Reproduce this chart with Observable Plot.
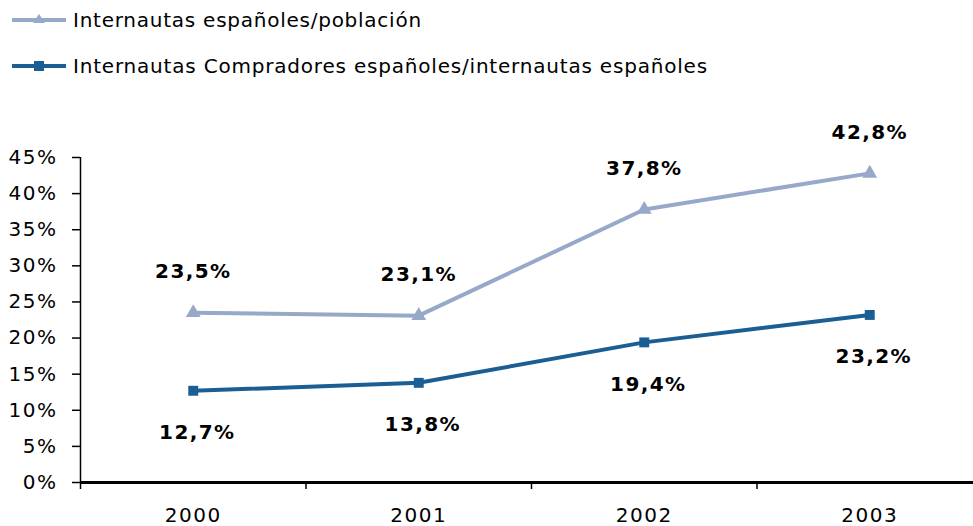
<!DOCTYPE html>
<html>
<head>
<meta charset="utf-8">
<script src="https://cdn.jsdelivr.net/npm/d3@7"></script>
<script src="https://cdn.jsdelivr.net/npm/@observablehq/plot@0.6"></script>
<style>
  html, body { margin: 0; padding: 0; background: #fff; }
  #wrap { position: relative; width: 973px; height: 526px; overflow: hidden; }
  #legend { position: absolute; left: 0; top: 0; font-family: "DejaVu Sans", sans-serif; font-size: 20px; color: #000; }
  .item { position: absolute; left: 12px; display: flex; align-items: center; white-space: nowrap; }
  .item svg { display: block; margin-right: 7px; }
  #chart g[aria-label="y-axis tick label"] text { letter-spacing: 1.5px; }
  #chart g[aria-label="x-axis tick label"] text { letter-spacing: 1.5px; }
  #chart g[aria-label="text"] text { letter-spacing: 1.4px; }
</style>
</head>
<body>
<div id="wrap">
  <div id="legend"></div>
  <div id="chart"></div>
</div>
<script>
const years = [2000, 2001, 2002, 2003];
const seriesNames = ["Internautas españoles/población", "Internautas Compradores españoles/internautas españoles"];
const internautasPoblacion = [23.5, 23.1, 37.8, 42.8];
const compradoresInternautas = [12.7, 13.8, 19.4, 23.2];
const yTicks = [0, 5, 10, 15, 20, 25, 30, 35, 40, 45];
const colors = ["#97A9C9", "#1A5E93"];
const symbols = ["triangle", "square"];

const rows = [
  ...years.map((y, i) => ({year: y, value: internautasPoblacion[i], s: 0})),
  ...years.map((y, i) => ({year: y, value: compradoresInternautas[i], s: 1}))
];
const s0 = rows.filter(d => d.s === 0);
const s1 = rows.filter(d => d.s === 1);
const boundaries = years.map(y => y - 0.5);
const fmt = v => v.toFixed(1).replace(".", ",") + "%";

// Legend
const legend = document.getElementById("legend");
const legendTops = [6, 52];
const legendSpacing = ["0.75px", "0.8px"];
seriesNames.forEach((name, i) => {
  const item = document.createElement("div");
  item.className = "item";
  item.style.top = legendTops[i] + "px";
  const sym = symbols[i] === "triangle"
    ? `<path d="M27,8 L33,17 L21,17 Z" fill="${colors[i]}"/>`
    : `<rect x="22" y="9" width="10" height="10" fill="${colors[i]}"/>`;
  item.innerHTML = `<svg width="54" height="28" viewBox="0 0 54 28"><line x1="0" x2="54" y1="14" y2="14" stroke="${colors[i]}" stroke-width="4"/>${sym}</svg><span style="letter-spacing:${legendSpacing[i]}">${name}</span>`;
  legend.appendChild(item);
});

const chart = Plot.plot({
  width: 973,
  height: 526,
  marginLeft: 80,
  marginRight: 0,
  marginTop: 157,
  marginBottom: 44,
  style: {fontFamily: "DejaVu Sans, sans-serif", background: "transparent"},
  x: {type: "linear", domain: [1999.5, 2003.5], range: [80, 982]},
  y: {domain: [0, 45], range: [482, 157]},
  marks: [
    Plot.axisY(yTicks, {label: null, tickSize: 8, tickPadding: 15, tickFormat: d => d + "%", fontSize: 20, stroke: "#000", strokeWidth: 1.5, fill: "#000"}),
    Plot.ruleX([1999.5], {y1: 0, y2: 45, stroke: "#000", strokeWidth: 1.5}),
    Plot.axisX(boundaries, {label: null, tickSize: 7, tickFormat: () => "", stroke: "#000", strokeWidth: 1.5}),
    Plot.axisX(years, {label: null, tickSize: 0, tickPadding: 25, tickFormat: d => String(d), fontSize: 20, fill: "#000"}),
    Plot.ruleY([0], {stroke: "#000", strokeWidth: 3}),
    Plot.line(s0, {x: "year", y: "value", stroke: colors[0], strokeWidth: 4}),
    Plot.line(s1, {x: "year", y: "value", stroke: colors[1], strokeWidth: 4}),
    Plot.dot(s0, {x: "year", y: "value", symbol: "triangle", r: 5.5, fill: colors[0]}),
    Plot.dot(s1, {x: "year", y: "value", symbol: "square", r: 5.6, fill: colors[1]}),
    Plot.text(s0, {x: "year", y: "value", text: d => fmt(d.value), dy: -41, dx: 0, fontSize: 20, fontWeight: "bold", fill: "#000"}),
    Plot.text(s1, {x: "year", y: "value", text: d => fmt(d.value), dy: 42, dx: 4, fontSize: 20, fontWeight: "bold", fill: "#000"})
  ]
});
document.getElementById("chart").appendChild(chart);
</script>
</body>
</html>
